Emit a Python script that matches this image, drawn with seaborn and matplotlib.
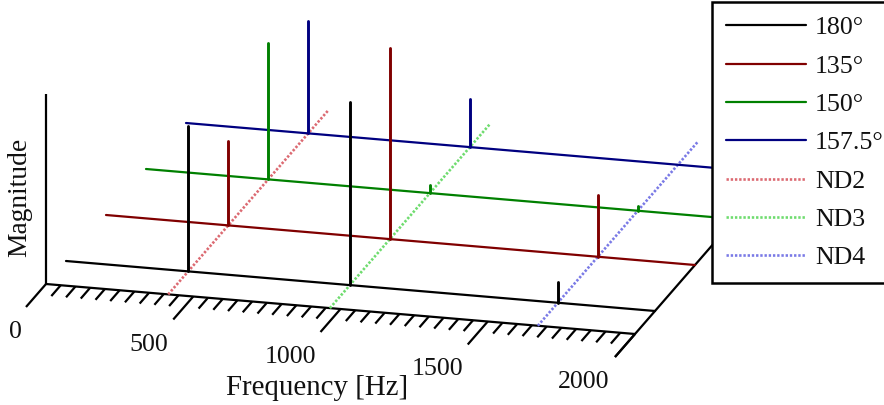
import numpy as np
import pandas as pd
import matplotlib
matplotlib.use("Agg")
import matplotlib.pyplot as plt
import seaborn as sns

# ---- data ----
angles = ["180°", "135°", "150°", "157.5°"]
depths = [1, 3, 5, 7]
colors = ["#000000", "#800000", "#008000", "#000080"]
nd_labels = ["ND2", "ND3", "ND4"]
nd_freqs = [415, 964, 1670]
nd_colors = ["#dc6a72", "#6fdc6f", "#7a7ae6"]
mag_180 = [0.763, 0.963, 0.110]
mag_135 = [0.442, 1.005, 0.326]
mag_150 = [0.716, 0.042, 0.026]
mag_1575 = [0.589, 0.253, 0.0]
mags = [mag_180, mag_135, mag_150, mag_1575]
tick_labels = ["0", "500", "1000", "1500", "2000"]
tick_vals = [0, 500, 1000, 1500, 2000]
tick_label_pos = [(15, 332), (149, 345), (290, 357), (438, 369), (584, 382)]

# ---- oblique projection (frequency, depth, magnitude) -> canvas ----
def project(f, d, m=0.0):
    f, d, m = np.asarray(f, float), np.asarray(d, float), np.asarray(m, float)
    return 46 + 0.2945 * f + 20 * d, 284 + 0.025 * f - 23 * d - 190 * m

sns.set_theme(style="white")
plt.rcParams["font.family"] = ["Liberation Serif", "DejaVu Serif"]
FS = 18.6
fig = plt.figure(figsize=(8.84, 4.05), dpi=100)
ax = fig.add_axes([0, 0, 1, 1])
ax.set_xlim(0, 884)
ax.set_ylim(405, 0)
ax.axis("off")

# axes furniture
AX = dict(color="black", lw=1.6, solid_capstyle="butt")
ax.plot(*project([0, 0], [0, 0], [0, 1]), **AX)
ax.plot(*project([0, 2000], [0, 0]), **AX)
ax.plot(*project([2000, 2000], [-1, 8]), **AX)
for f in np.arange(0, 2001, 50):
    dlen = 1.0 if f % 500 == 0 else 0.47
    ax.plot(*project([f, f], [0, -dlen]), **AX)
for lab, (x, y) in zip(tick_labels, tick_label_pos):
    ax.text(x, y, lab, ha="center", va="center", fontsize=FS, color="#111111")
ax.text(317, 388, "Frequency [Hz]", ha="center", va="center", fontsize=20.8, color="#111111")
ax.text(20, 197, "Magnitude", ha="center", va="center", rotation=90, fontsize=19.8, color="#111111")

# nodal-diameter guides
for lab, f, c in zip(nd_labels, nd_freqs, nd_colors):
    sx, sy = project([f, f], [0, 8])
    sns.lineplot(x=sx, y=sy, sort=False, estimator=None, color=c, lw=1.9,
                 linestyle=(0, (0.9, 0.7)), label=lab, ax=ax)

# series: back to front
for name, d, c, m in list(zip(angles, depths, colors, mags))[::-1]:
    bx, by = project([0, 2000], [d, d])
    sns.lineplot(x=bx, y=by, sort=False, estimator=None, color=c, lw=1.6, label=name, ax=ax)
    rows = []
    for i, (f, v) in enumerate(zip(nd_freqs, m)):
        sx, sy = project([f, f], [d, d], [0, v])
        rows += [(i, sx[0], sy[0]), (i, sx[1], sy[1])]
    stems = pd.DataFrame(rows, columns=["peak", "sx", "sy"])
    sns.lineplot(data=stems, x="sx", y="sy", units="peak", sort=False, estimator=None,
                 color=c, lw=2.1, ax=ax, legend=False)

ax.set_xlabel("")
ax.set_ylabel("")
ax.set_xlim(0, 884)
ax.set_ylim(405, 0)
ax.set_axis_off()

handles, labels = ax.get_legend_handles_labels()
lookup = dict(zip(labels, handles))
order = angles + nd_labels
leg = ax.legend([lookup[k] for k in order], order, loc="upper left",
                bbox_to_anchor=(712 / 884, 1 - 2 / 405), bbox_transform=fig.transFigure,
                borderaxespad=0, fontsize=FS, frameon=True, fancybox=False, framealpha=1,
                facecolor="white", edgecolor="black", handlelength=3.07, handletextpad=0.36,
                labelspacing=0.59, borderpad=0.55, labelcolor="#111111")
leg.get_frame().set_linewidth(1.8)
leg.set_zorder(10)

fig.savefig("out.png", dpi=100)
